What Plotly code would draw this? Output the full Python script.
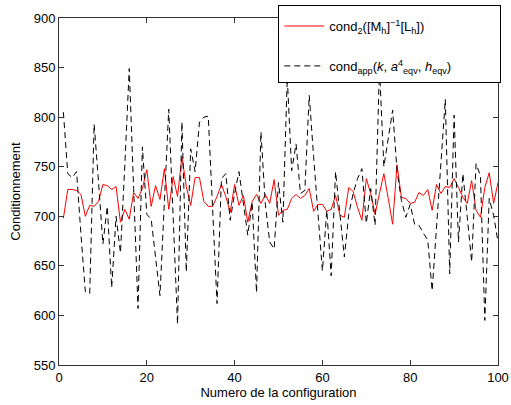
import plotly.graph_objects as go

config_idx = list(range(1, 101))

cond2 = [698, 727, 727, 726, 722, 700, 711, 710, 715, 732,
         731, 727, 730, 694, 707, 697, 724, 718, 728, 747,
         710, 731, 717, 748, 707, 740, 720, 760, 730, 711,
         739, 739, 715, 710, 710, 720, 732, 720, 704, 732,
         711, 721, 694, 715, 722, 713, 722, 713, 737, 701,
         706, 707, 718, 722, 718, 721, 728, 705, 712, 712,
         705, 707, 721, 701, 699, 729, 725, 709, 696, 738,
         723, 702, 723, 743, 718, 692, 752, 719, 718, 713,
         714, 724, 721, 727, 706, 732, 723, 730, 729, 738,
         729, 719, 713, 736, 706, 699, 729, 744, 713, 734]

cond_app = [805, 743, 739, 745, 682, 624, 622, 793, 735, 672,
            710, 628, 700, 663, 752, 849, 728, 607, 770, 702,
            697, 659, 620, 714, 808, 700, 591, 795, 644, 768,
            745, 795, 800, 801, 706, 612, 738, 743, 696, 723,
            745, 712, 681, 714, 623, 785, 712, 674, 667, 734,
            694, 840, 746, 773, 723, 726, 822, 760, 703, 645,
            706, 640, 745, 699, 659, 702, 723, 738, 748, 693,
            728, 691, 850, 750, 780, 807, 746, 716, 699, 712,
            692, 691, 683, 676, 625, 688, 751, 818, 642, 802,
            674, 743, 699, 654, 753, 741, 595, 718, 701, 674]

x_ticks = [0, 20, 40, 60, 80, 100]
y_ticks = [550, 600, 650, 700, 750, 800, 850, 900]

font_family = "Liberation Sans, Arial, Helvetica, sans-serif"
pad = "&nbsp;" * 12

fig = go.Figure()
fig.add_trace(go.Scatter(
    x=config_idx, y=cond2, mode="lines",
    line=dict(color="#ff0000", width=1),
    legendgroup="a",
    name="cond<sub>2</sub>([M<sub>h</sub>]<sup>−1</sup>[L<sub>h</sub>])" + pad,
))
fig.add_trace(go.Scatter(
    x=config_idx, y=cond_app, mode="lines",
    line=dict(color="#000000", width=1, dash="6px,4px"),
    legendgroup="b",
    name="cond<sub>app</sub>(<i>k</i>, <i>a</i><sup>4</sup><sub>eqv</sub>, <i>h</i><sub>eqv</sub>)" + pad,
))

axis_common = dict(
    showline=True, linecolor="#333333", linewidth=1, mirror="ticks",
    ticks="inside", ticklen=5, tickcolor="#333333",
    showgrid=False, zeroline=False, automargin=False,
    tickfont=dict(family=font_family, size=13, color="#000000"),
)

fig.update_layout(
    width=511, height=405,
    margin=dict(l=59, r=13, t=18, b=40, autoexpand=False),
    paper_bgcolor="white", plot_bgcolor="white",
    font=dict(family=font_family, size=13, color="#000000"),
    xaxis=dict(range=[0, 100], tickvals=x_ticks,
               title=dict(text="Numero de la configuration", standoff=2,
                          font=dict(family=font_family, size=13)),
               **axis_common),
    yaxis=dict(range=[550, 900], tickvals=y_ticks,
               title=dict(text="Conditionnement", standoff=10,
                          font=dict(family=font_family, size=13)),
               **axis_common),
    legend=dict(xref="container", yref="container",
                x=0.981, y=0.988, xanchor="right", yanchor="top",
                bgcolor="white", bordercolor="#000000", borderwidth=1,
                font=dict(family=font_family, size=13),
                title=dict(text="&nbsp;", font=dict(size=4)),
                itemwidth=40, tracegroupgap=20),
    showlegend=True,
)

fig.write_html("out.html",
               config={"displayModeBar": False},
               post_script="document.body.style.margin='0';document.body.style.padding='0';")
